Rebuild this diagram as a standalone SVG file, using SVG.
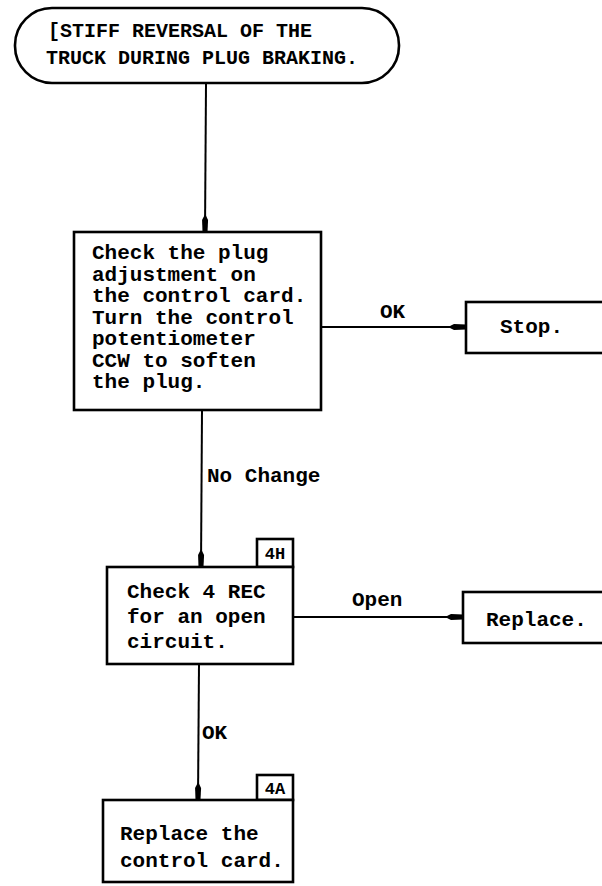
<svg xmlns="http://www.w3.org/2000/svg" width="602" height="886" viewBox="0 0 602 886">
<style>
.box{fill:#fff;stroke:#000;stroke-width:2.6}
.ln{fill:none;stroke:#000;stroke-width:2}
.t{font-family:"Liberation Mono","Courier New",monospace;font-size:21px;font-weight:bold;fill:#000}
.tt{font-family:"Liberation Mono","Courier New",monospace;font-size:20px;font-weight:bold;fill:#000}
.tg{font-family:"Liberation Mono","Courier New",monospace;font-size:17px;font-weight:bold;fill:#000;text-anchor:middle}
</style>
<defs>
<marker id="ah" viewBox="0 0 18 8" refX="18" refY="4" markerWidth="18" markerHeight="8" markerUnits="userSpaceOnUse" orient="auto">
<path d="M0,4 L6,1 L18,1.5 L18,6.5 L6,7 Z" fill="#000"/>
</marker>
</defs>
<rect width="602" height="886" fill="#fff"/>
<g id="connectors">
<line class="ln" x1="206" y1="84" x2="205" y2="232" marker-end="url(#ah)"/>
<line class="ln" x1="321" y1="327" x2="466" y2="327" marker-end="url(#ah)"/>
<text class="t" x="380" y="318">OK</text>
<line class="ln" x1="202" y1="410" x2="201" y2="567" marker-end="url(#ah)"/>
<text class="t" x="207" y="482">No Change</text>
<line class="ln" x1="293" y1="617" x2="463" y2="617" marker-end="url(#ah)"/>
<text class="t" x="352" y="606">Open</text>
<line class="ln" x1="199" y1="664" x2="198" y2="800" marker-end="url(#ah)"/>
<text class="t" x="202" y="739">OK</text>
</g>
<g id="start">
<rect class="box" x="15" y="8" width="384" height="75" rx="37" ry="37"/>
<text class="tt" x="48" y="37">[STIFF REVERSAL OF THE</text>
<text class="tt" x="46" y="64">TRUCK DURING PLUG BRAKING.</text>
</g>
<g id="check-plug">
<rect class="box" x="74" y="232" width="247" height="178"/>
<text class="t" x="92" y="259">Check the plug</text>
<text class="t" x="92" y="280.5">adjustment on</text>
<text class="t" x="92" y="302">the control card.</text>
<text class="t" x="92" y="323.5">Turn the control</text>
<text class="t" x="92" y="345">potentiometer</text>
<text class="t" x="92" y="366.5">CCW to soften</text>
<text class="t" x="92" y="388">the plug.</text>
</g>
<g id="stop">
<rect class="box" x="466" y="302" width="150" height="51"/>
<text class="t" x="500" y="333">Stop.</text>
</g>
<g id="check-rec">
<rect class="box" x="257" y="539" width="36" height="28"/>
<text class="tg" x="275" y="559">4H</text>
<rect class="box" x="107" y="567" width="186" height="97"/>
<text class="t" x="127" y="598">Check 4 REC</text>
<text class="t" x="127" y="623">for an open</text>
<text class="t" x="127" y="648">circuit.</text>
</g>
<g id="replace">
<rect class="box" x="463" y="592" width="150" height="51"/>
<text class="t" x="486" y="626">Replace.</text>
</g>
<g id="replace-card">
<rect class="box" x="257" y="775" width="36" height="25"/>
<text class="tg" x="275" y="794">4A</text>
<rect class="box" x="103" y="800" width="190" height="82"/>
<text class="t" x="120" y="840">Replace the</text>
<text class="t" x="120" y="867">control card.</text>
</g>
</svg>
